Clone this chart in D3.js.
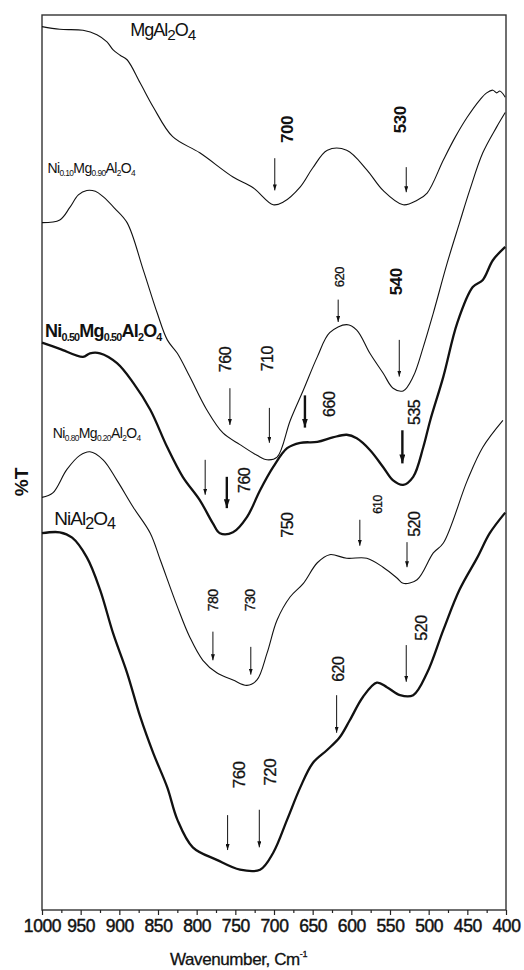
<!DOCTYPE html>
<html><head><meta charset="utf-8">
<script src="https://cdn.jsdelivr.net/npm/d3@7"></script>
<style>
body{margin:0;background:#fff}
svg{display:block}
text{font-family:"Liberation Sans",Arial,sans-serif;fill:#111}
</style>
</head><body>
<svg id="chart" width="524" height="970"></svg>
<script>
// ---------------- DATA ----------------
// x: wavenumber (cm-1), y: %T (arbitrary offset scale)
const tickLabels = [1000,950,900,850,800,750,700,650,600,550,500,450,400];
const minorTicks = [975,925,875,825,775,725,675,625,575,525,475,425];

const mgAl2O4 = [[1000,98.7],[977,98.4],[947,98.3],[929,97.8],[916,97.0],[908,96.1],[899,95.5],[890,95.0],[873,92.4],[856,89.7],[831,86.4],[796,84.6],[753,81.9],[727,80.7],[701,78.8],[688,79.1],[666,80.8],[650,82.9],[631,84.9],[606,84.9],[580,82.7],[559,80.4],[533,78.8],[515,79.3],[502,80.1],[481,83.8],[466,86.3],[450,88.6],[434,90.5],[425,91.3],[417,91.6],[412,91.3],[408,91.5],[404,91.2],[401,90.8]];

const ni10 = [[1000,76.8],[977,77.1],[964,78.5],[953,79.9],[942,80.4],[931,80.3],[921,79.7],[906,78.4],[890,76.8],[869,71.5],[851,66.7],[838,63.7],[825,62.2],[809,59.6],[787,55.9],[766,53.3],[744,52.0],[722,50.8],[709,50.3],[696,50.6],[679,54.7],[662,58.1],[644,61.8],[628,64.5],[606,65.4],[593,64.8],[576,62.2],[559,60.0],[546,58.3],[533,58.0],[520,59.6],[507,62.9],[494,66.7],[476,72.3],[460,76.8],[447,80.4],[430,84.6],[412,87.5],[401,89.1]];

const ni50 = [[1000,63.4],[977,62.7],[947,61.8],[938,62.2],[925,62.2],[903,61.1],[882,58.9],[860,55.9],[838,51.7],[818,48.4],[796,45.8],[779,43.2],[770,42.1],[753,42.2],[735,43.9],[718,46.9],[701,49.5],[683,51.6],[666,52.2],[644,52.3],[624,52.8],[606,53.1],[593,52.7],[576,51.4],[559,49.5],[546,48.0],[533,47.5],[520,48.4],[507,51.7],[498,54.7],[481,59.6],[463,65.6],[443,69.6],[430,70.4],[417,72.6],[401,74.1]];

const ni80 = [[1000,46.1],[986,46.6],[968,49.2],[951,50.8],[938,51.2],[921,50.3],[903,48.0],[882,45.0],[860,42.1],[847,39.1],[825,33.9],[809,30.5],[792,27.9],[774,26.5],[753,25.7],[735,25.1],[722,25.7],[709,28.7],[696,32.4],[679,35.0],[662,36.5],[644,38.8],[628,39.7],[606,39.3],[580,39.3],[559,38.3],[541,37.1],[533,36.5],[515,36.9],[494,39.9],[481,41.0],[450,48.0],[430,51.7],[404,54.7]];

const niAl2O4 = [[1000,42.1],[977,42.2],[961,41.6],[942,39.4],[925,35.8],[908,30.9],[890,26.5],[873,21.6],[856,17.5],[838,13.7],[825,10.1],[805,7.0],[774,5.6],[744,4.5],[718,4.5],[701,6.4],[683,10.1],[666,13.7],[650,16.4],[631,17.9],[615,19.3],[602,21.2],[585,23.8],[567,25.4],[554,24.9],[537,24.0],[520,24.0],[502,26.5],[481,31.3],[460,35.8],[437,39.4],[421,42.1],[401,44.4]];

const seriesData = [mgAl2O4, ni10, ni50, ni80, niAl2O4];

// sample names: parts [text, isSubscript]; anchor [wavenumber, %T] of left baseline
const sampleNames = [
  [["Mg",0],["Al",0],["2",1],["O",0],["4",1]],
  [["Ni",0],["0.10",1],["Mg",0],["0.90",1],["Al",0],["2",1],["O",0],["4",1]],
  [["Ni",0],["0.50",1],["Mg",0],["0.50",1],["Al",0],["2",1],["O",0],["4",1]],
  [["Ni",0],["0.80",1],["Mg",0],["0.20",1],["Al",0],["2",1],["O",0],["4",1]],
  [["Ni",0],["Al",0],["2",1],["O",0],["4",1]]
];
const sampleAnchors = [[886,97.6],[993,82.4],[996,64.0],[986,52.7],[984,43.0]];

// peak arrows: [wavenumber, %T top, %T tip]
const peakArrows = [[699,84.0,80.4],[529,83.0,80.2],[617,68.2,65.7],[538,63.7,59.6],[757,58.3,54.2],[706,56.1,52.2],[660,57.5,53.9],[534,53.6,49.9],[789,50.3,46.4],[761,48.4,44.9],[589,43.6,40.7],[528,41.1,38.3],[779,31.1,27.9],[730,29.4,26.3],[619,24.0,19.8],[529,29.6,25.5],[760,10.6,6.7],[719,11.2,7.0]];

// peak labels: [text, wavenumber, %T]
const peakLabels = [["700",683,87.2],["530",537,88.3],["620",615,70.7],["540",542,70.2],["760",763,61.5],["710",709,61.6],["660",628,56.5],["535",518,55.6],["760",738,48.0],["750",683,43.0],["610",566,45.3],["520",518,43.1],["780",779,34.6],["730",731,34.6],["620",617,26.9],["520",509,31.5],["760",744,15.1],["720",705,15.4]];

// ---------------- STYLE ----------------
const seriesWidth = [1.1, 1.1, 2.3, 1.1, 2.3];
const nameStyle = [
  {size:18, weight:"normal", sub:0.85, shift:4, ls:-1},
  {size:14, weight:"normal", sub:0.6, shift:3, ls:-0.6},
  {size:18, weight:"bold", sub:0.6, shift:4, ls:-0.8},
  {size:14, weight:"normal", sub:0.6, shift:3, ls:-0.6},
  {size:19, weight:"normal", sub:0.85, shift:4, ls:-1}
];
const arrowThick = [0,0,0,0,0,0,1,1,0,1,0,0,0,0,0,0,0,0];
const labelSize = [17,17,13,17,16,16,16,16,16,16,12,16,14,14,16,16,17,17];
const labelBold = [1,1,0,1,0,0,0,0,0,0,0,0,0,0,0,0,0,0];

// ---------------- DRAW ----------------
const svg = d3.select("#chart");
const x = d3.scaleLinear().domain([1000,400]).range([42,506]);
const y = d3.scaleLinear().domain([0,100]).range([910,15]);

const defs = svg.append("defs");
function marker(id, w, h){
  defs.append("marker").attr("id", id).attr("markerUnits","userSpaceOnUse")
    .attr("markerWidth", w).attr("markerHeight", h).attr("refX", w).attr("refY", h/2)
    .attr("orient","auto").append("path")
    .attr("d", `M0,0L${w},${h/2}L0,${h}Z`).attr("fill","#111");
}
marker("ahThin", 6, 4);
marker("ahThick", 9, 6);

// frame
svg.append("rect").attr("x", x(1000)).attr("y", y(100))
  .attr("width", x(400)-x(1000)).attr("height", y(0)-y(100))
  .attr("fill","none").attr("stroke","#333").attr("stroke-width",1.4);

// axis
const axisG = svg.append("g").attr("transform", `translate(0,${y(0)})`);
axisG.call(d3.axisBottom(x).tickValues(tickLabels).tickSize(5).tickPadding(5).tickFormat(d3.format("d")));
axisG.select(".domain").remove();
axisG.selectAll(".tick line").attr("stroke","#222").attr("stroke-width",1.2);
axisG.selectAll(".tick text").attr("font-size",17.5).attr("font-family","'Liberation Sans',Arial,sans-serif")
  .attr("fill","#111").attr("stroke","#111").attr("stroke-width",0.45).attr("letter-spacing",-0.4);
const minorG = svg.append("g").attr("transform", `translate(0,${y(0)})`);
minorG.call(d3.axisBottom(x).tickValues(minorTicks).tickSize(3).tickFormat(""));
minorG.select(".domain").remove();
minorG.selectAll(".tick line").attr("stroke","#222").attr("stroke-width",1.2);

// axis titles
const xt = svg.append("text").attr("x",170).attr("y",965).attr("font-size",17)
  .attr("letter-spacing",-0.4).attr("stroke","#111").attr("stroke-width",0.3);
xt.append("tspan").text("Wavenumber, Cm");
xt.append("tspan").attr("font-size",9).attr("dy",-8).text("-1");
svg.append("text").attr("transform","translate(28,482) rotate(-90)")
  .attr("text-anchor","middle").attr("font-size",19).attr("font-weight","bold").text("%T");

// spectra
const line = d3.line().x(d=>x(d[0])).y(d=>y(d[1])).curve(d3.curveCatmullRom.alpha(0.5));
svg.append("g").selectAll("path").data(seriesData).join("path")
  .attr("d", line).attr("fill","none").attr("stroke","#111")
  .attr("stroke-width",(d,i)=>seriesWidth[i]).attr("stroke-linejoin","round");

// arrows
svg.append("g").selectAll("line").data(peakArrows).join("line")
  .attr("x1",d=>x(d[0])).attr("x2",d=>x(d[0]))
  .attr("y1",d=>y(d[1])).attr("y2",d=>y(d[2]))
  .attr("stroke","#111").attr("stroke-width",(d,i)=>arrowThick[i]?2.4:1)
  .attr("marker-end",(d,i)=>arrowThick[i]?"url(#ahThick)":"url(#ahThin)");

// peak labels (rotated)
svg.append("g").selectAll("text").data(peakLabels).join("text")
  .attr("transform",d=>`translate(${x(d[1])},${y(d[2])}) rotate(-90)`)
  .attr("text-anchor","middle").attr("dominant-baseline","central")
  .attr("font-size",(d,i)=>labelSize[i]).attr("font-weight",(d,i)=>labelBold[i]?"bold":"normal")
  .attr("stroke","#111").attr("stroke-width",(d,i)=>labelBold[i]?0:0.3)
  .attr("letter-spacing",-0.5)
  .text(d=>d[0]);

// sample names
sampleNames.forEach((parts,i)=>{
  const st = nameStyle[i];
  const t = svg.append("text").attr("x", x(sampleAnchors[i][0])).attr("y", y(sampleAnchors[i][1]))
    .attr("font-size", st.size).attr("font-weight", st.weight).attr("letter-spacing", st.ls);
  let prevSub = 0;
  parts.forEach(p=>{
    const ts = t.append("tspan").text(p[0]);
    if (p[1]) { ts.attr("font-size", st.size*st.sub); if(!prevSub) ts.attr("dy", st.shift); }
    else if (prevSub) ts.attr("dy", -st.shift);
    prevSub = p[1];
  });
});
</script>
</body></html>
